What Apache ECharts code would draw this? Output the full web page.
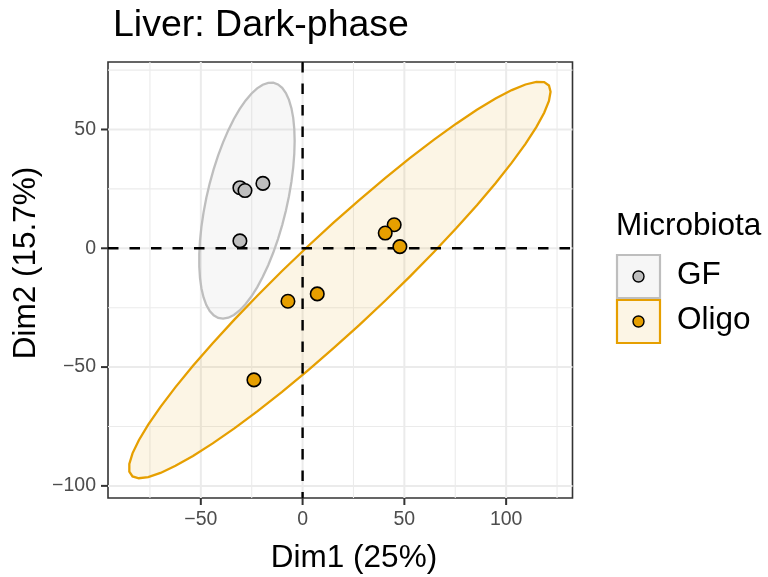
<!DOCTYPE html>
<html>
<head>
<meta charset="utf-8">
<script src="https://cdn.jsdelivr.net/npm/echarts@6/dist/echarts.min.js"></script>
<style>html,body{margin:0;padding:0;background:#fff;}#c{width:768px;height:577px;}</style>
</head>
<body>
<div id="c"></div>
<script>
// ---- data ----
const groups = ['GF', 'Oligo'];
const gfX = [-30.8, -28.3, -19.5, -30.8];
const gfY = [25.5, 24.3, 27.3, 3.1];
const oligoX = [45.0, 40.6, 47.8, -7.2, 7.2, -23.9];
const oligoY = [9.9, 6.4, 0.7, -22.3, -19.2, -55.4];
const xTicks = [-50, 0, 50, 100];
const yTicks = [-100, -50, 0, 50];
const xMinor = [-75, -25, 25, 75, 125];
const yMinor = [-75, -25, 25, 75];
const xRange = [-95.6, 132.6];
const yRange = [-105.1, 78.4];
const titleText = 'Liver: Dark-phase';
const xName = 'Dim1 (25%)';
const yName = 'Dim2 (15.7%)';
const legendTitle = 'Microbiota';

// ---- styling ----
const FONT = '"Liberation Sans", Arial, Helvetica, sans-serif';
const colors = { GF: '#BEBEBE', Oligo: '#E69F00' };
const fills = { GF: 'rgba(190,190,190,0.12)', Oligo: 'rgba(230,159,0,0.1)' };

// 95% confidence ellipse (multivariate normal, as in stat_ellipse)
function ellipse(xs, ys, level, segments) {
  const n = xs.length;
  const mx = xs.reduce((a, b) => a + b, 0) / n;
  const my = ys.reduce((a, b) => a + b, 0) / n;
  let sxx = 0, syy = 0, sxy = 0;
  for (let i = 0; i < n; i++) {
    sxx += (xs[i] - mx) ** 2; syy += (ys[i] - my) ** 2; sxy += (xs[i] - mx) * (ys[i] - my);
  }
  sxx /= (n - 1); syy /= (n - 1); sxy /= (n - 1);
  const dfd = n - 1;
  const q = (dfd / 2) * (Math.pow(1 - level, -2 / dfd) - 1); // qf(level, 2, dfd)
  const r = Math.sqrt(2 * q);
  const a = Math.sqrt(sxx), b = sxy / a, c = Math.sqrt(syy - b * b);
  const pts = [];
  for (let i = 0; i <= segments; i++) {
    const t = 2 * Math.PI * i / segments;
    pts.push([mx + r * Math.cos(t) * a, my + r * (Math.cos(t) * b + Math.sin(t) * c)]);
  }
  return { center: [mx, my], pts };
}
const ells = {
  GF: ellipse(gfX, gfY, 0.95, 51),
  Oligo: ellipse(oligoX, oligoY, 0.95, 51)
};
const pointsOf = { GF: gfX.map((x, i) => [x, gfY[i]]), Oligo: oligoX.map((x, i) => [x, oligoY[i]]) };

const fmt = v => String(v).replace('-', '\u2212');

function gridLineSeries(vals, vertical, width, z) {
  return {
    type: 'custom', silent: true, z: z, clip: true,
    data: vals.map(v => vertical ? [v, 0] : [0, v]),
    renderItem: function (params, api) {
      const cs = params.coordSys;
      const v = api.value(vertical ? 0 : 1);
      let shape;
      if (vertical) {
        const x = api.coord([v, 0])[0];
        shape = { x1: x, y1: cs.y, x2: x, y2: cs.y + cs.height };
      } else {
        const y = api.coord([0, v])[1];
        shape = { x1: cs.x, y1: y, x2: cs.x + cs.width, y2: y };
      }
      return { type: 'line', shape: shape, style: { stroke: '#EBEBEB', lineWidth: width } };
    }
  };
}
// tick marks outside the panel, at the tick values
function tickSeries(vals, vertical, z) {
  return {
    type: 'custom', silent: true, z: z, clip: false,
    data: vals.map(v => vertical ? [v, 0] : [0, v]),
    renderItem: function (params, api) {
      const cs = params.coordSys;
      const v = api.value(vertical ? 0 : 1);
      let shape;
      if (vertical) {
        const x = api.coord([v, 0])[0];
        shape = { x1: x, y1: cs.y + cs.height, x2: x, y2: cs.y + cs.height + 7 };
      } else {
        const y = api.coord([0, v])[1];
        shape = { x1: cs.x - 7, y1: y, x2: cs.x, y2: y };
      }
      return { type: 'line', shape: shape, style: { stroke: '#333', lineWidth: 2 } };
    }
  };
}
function refLineSeries(z) {
  return {
    type: 'custom', silent: true, z: z,
    data: [[0, 0]],
    renderItem: function (params, api) {
      const cs = params.coordSys;
      const p = api.coord([0, 0]);
      const st = { stroke: '#000', lineWidth: 2.4, lineDash: [10.5, 11] };
      return { type: 'group', children: [
        { type: 'line', shape: { x1: p[0], y1: cs.y, x2: p[0], y2: cs.y + cs.height }, style: st },
        { type: 'line', shape: { x1: cs.x, y1: p[1], x2: cs.x + cs.width, y2: p[1] }, style: st }
      ] };
    }
  };
}
function ellipseSeries(g, z) {
  return {
    type: 'custom', silent: true, z: z,
    data: [ells[g].center],
    renderItem: function (params, api) {
      const pts = ells[g].pts.map(p => api.coord(p));
      return { type: 'polygon', shape: { points: pts }, style: { fill: fills[g], stroke: colors[g], lineWidth: 2.3 } };
    }
  };
}
function pointSeries(g, z) {
  return {
    type: 'scatter', name: g, z: z, data: pointsOf[g], symbol: 'circle', symbolSize: 13.5,
    itemStyle: { color: colors[g], borderColor: '#000', borderWidth: 1.6, opacity: 1 },
    emphasis: { disabled: true }
  };
}

const legendGraphics = [
  { type: 'text', left: 616, top: 210, style: { text: legendTitle, font: '31.5px ' + FONT, fill: '#000' } }
];
groups.forEach((g, i) => {
  const top = 255 + i * 45;
  legendGraphics.push({ type: 'rect', shape: { x: 617, y: top, width: 43, height: 43 }, style: { fill: fills[g].replace('0.12', '0.14'), stroke: colors[g], lineWidth: 2.2 } });
  legendGraphics.push({ type: 'circle', shape: { cx: 638.5, cy: top + 21.5, r: 5.5 }, style: { fill: colors[g], stroke: '#000', lineWidth: 1.4 } });
  legendGraphics.push({ type: 'text', x: 677, y: top + 20.5, style: { text: g, font: '31.5px ' + FONT, fill: '#000', verticalAlign: 'middle' } });
});

const chart = echarts.init(document.getElementById('c'), null, { renderer: 'canvas' });
chart.setOption({
  animation: false,
  backgroundColor: '#fff',
  grid: { left: 108, top: 62, right: 195.5, bottom: 79, show: true, borderColor: '#333', borderWidth: 1.6, backgroundColor: '#fff', containLabel: false },
  xAxis: {
    type: 'value', min: xRange[0], max: xRange[1],
    axisLine: { show: false }, splitLine: { show: false }, axisTick: { show: false },
    axisLabel: { customValues: xTicks, formatter: fmt, color: '#4D4D4D', fontSize: 19.5, fontFamily: FONT, margin: 12 }
  },
  yAxis: {
    type: 'value', min: yRange[0], max: yRange[1],
    axisLine: { show: false }, splitLine: { show: false }, axisTick: { show: false },
    axisLabel: { customValues: yTicks, formatter: fmt, color: '#4D4D4D', fontSize: 19.5, fontFamily: FONT, margin: 12 }
  },
  series: [
    gridLineSeries(xMinor, true, 1.1, 1),
    gridLineSeries(yMinor, false, 1.1, 1),
    gridLineSeries(xTicks, true, 2, 1),
    gridLineSeries(yTicks, false, 2, 1),
    ellipseSeries('GF', 2),
    ellipseSeries('Oligo', 2),
    refLineSeries(3),
    pointSeries('GF', 4),
    pointSeries('Oligo', 4),
    tickSeries(xTicks, true, 5),
    tickSeries(yTicks, false, 5)
  ],
  graphic: [
    { type: 'text', left: 113, top: 7, style: { text: titleText, font: '37.5px ' + FONT, fill: '#000' } },
    { type: 'text', x: 354, y: 558, style: { text: xName, font: '31.5px ' + FONT, fill: '#000', align: 'center', verticalAlign: 'middle' } },
    { type: 'text', x: 26, y: 263, rotation: Math.PI / 2, style: { text: yName, font: '31.5px ' + FONT, fill: '#000', align: 'center', verticalAlign: 'middle' } }
  ].concat(legendGraphics)
});
</script>
</body>
</html>
